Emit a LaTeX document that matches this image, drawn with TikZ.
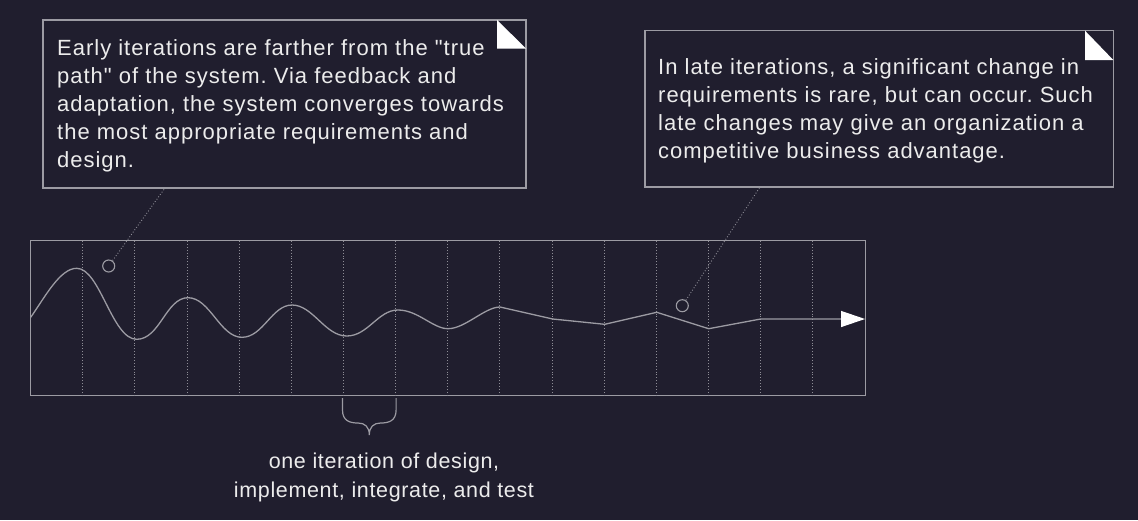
\documentclass[tikz,border=0pt]{standalone}
\usepackage{fontspec}
\setmainfont{Liberation Sans}[Ligatures=TeXOff]
\usetikzlibrary{arrows.meta}
\definecolor{bg}{HTML}{201E2E}
\definecolor{edge}{HTML}{9C9BA3}
\definecolor{grid}{HTML}{8E8D96}
\definecolor{ink}{HTML}{ECECEC}
\frenchspacing
\begin{document}
\begin{tikzpicture}[x=1pt,y=-1pt,
  frame/.style={draw=edge,line width=1.3pt},
  gridline/.style={draw=grid,line width=0.9pt,dotted},
  leader/.style={draw=grid,line width=0.9pt,dotted},
  marker/.style={circle,draw=edge,line width=1.1pt,minimum size=12pt,inner sep=0pt},
  notetext/.style={text=ink,font=\fontsize{22}{28}\selectfont\addfontfeature{LetterSpace=4.5},align=left,anchor=north west,inner sep=0pt},
  fold/.style={fill=white},
  wave/.style={draw=edge,line width=1.3pt}]
\fill[bg] (0,0) rectangle (1138,520);
\useasboundingbox (0,0) rectangle (1138,520);

% left note
\draw[frame] (43,20) rectangle (526,188);
\fill[fold] (497,20) -- (526,48.5) -- (497,48.5) -- cycle;
\node[notetext] (leftnote) at (57,39) {Early iterations are farther from the "true\\path" of the system. Via feedback and\\adaptation, the system converges towards\\the most appropriate requirements and\\design.};
\coordinate (leftfoot) at (165,188);

% right note
\draw[frame] (645,30.7) rectangle (1113.3,187);
\fill[fold] (1085,30.7) -- (1113.3,60) -- (1085,60) -- cycle;
\node[notetext] (rightnote) at (658,58.3) {In late iterations, a significant change in\\requirements is rare, but can occur. Such\\late changes may give an organization a\\competitive business advantage.};
\coordinate (rightfoot) at (760,187);

% timeline frame with iteration columns
\draw[frame] (30.7,240.3) rectangle (865.3,395.7);
\foreach \i in {0,...,14}
  \draw[gridline] (82.7+52.14*\i,241) -- (82.7+52.14*\i,395);

% convergence path
\draw[wave,-{Triangle[length=24pt,width=16pt,color=white]}]
  (30.7,317.3) .. controls (45,297) and (60,268.3) .. (76.7,268.3)
  .. controls (100,268.3) and (112,339.3) .. (136.7,339.3)
  .. controls (160,339.3) and (166,297.7) .. (188,297.7)
  .. controls (210,297.7) and (220,337.3) .. (242,337.3)
  .. controls (263,337.3) and (272,305) .. (292,305)
  .. controls (313,305) and (325,336) .. (346.7,336)
  .. controls (368,336) and (378,310) .. (398,310)
  .. controls (418,310) and (433,328.7) .. (448,328.7)
  .. controls (465,328.7) and (485,307) .. (500,307)
  -- (552.7,319) -- (604.7,324.3) -- (656.7,312.3) -- (708.7,328.7)
  -- (760.7,319) -- (865,319);

% markers and leaders
\node[marker] (early) at (108.7,266) {};
\node[marker] (late) at (682.3,305.7) {};
\draw[leader] (early) -- (leftfoot);
\draw[leader] (late) -- (rightfoot);

% brace under one iteration
\draw[edge,line width=1.2pt] (342.5,398) -- (342.5,410)
  .. controls (342.5,421) and (350,423) .. (358,423)
  .. controls (365,423) and (369.3,427) .. (369.3,435)
  .. controls (369.3,427) and (373.6,423) .. (380.6,423)
  .. controls (388.6,423) and (396.1,421) .. (396.1,410) -- (396.1,398);
\node[text=ink,font=\fontsize{21.5}{29}\selectfont\addfontfeature{LetterSpace=3},align=center,anchor=north,inner sep=0pt] (caption) at (384,453) {one iteration of design,\\implement, integrate, and test};
\end{tikzpicture}
\end{document}
